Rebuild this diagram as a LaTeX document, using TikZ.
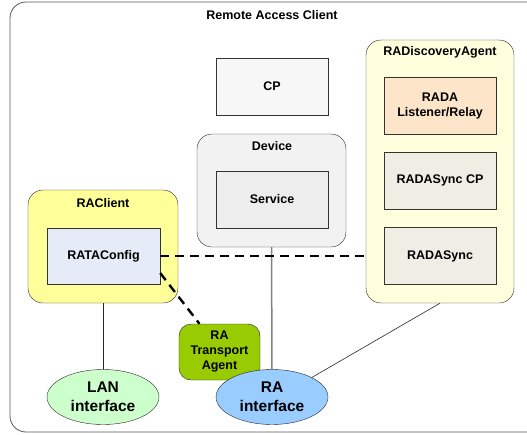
\documentclass[tikz,border=0pt]{standalone}
\usepackage{fontspec}
\setmainfont{Liberation Sans}
\usetikzlibrary{positioning, shapes}

\definecolor{raclientyellow}{HTML}{FFFF99}
\definecolor{radayellow}{HTML}{FFFFDD}
\definecolor{devicegray}{HTML}{F2F2F2}
\definecolor{cpgray}{HTML}{F7F7F7}
\definecolor{servicegray}{HTML}{EDEDED}
\definecolor{configblue}{HTML}{E6ECF7}
\definecolor{relayorange}{HTML}{FCE5C8}
\definecolor{syncgray}{HTML}{EEEEE4}
\definecolor{agentgreen}{HTML}{99CC00}
\definecolor{langreen}{HTML}{CCFFCC}
\definecolor{rablue}{HTML}{99CCFF}

\begin{document}
\begin{tikzpicture}[x=1pt, y=-1pt, font=\fontsize{12.5}{15}\selectfont\bfseries]
    \tikzstyle{inner} = [rectangle, draw=black!80, minimum width=112pt, minimum height=57pt, align=center]
    \tikzstyle{holder} = [rectangle, rounded corners=15pt, draw=black!85]
    \tikzstyle{iface} = [ellipse, draw=black!85, minimum width=112pt, minimum height=55pt, align=center, font=\fontsize{15.5}{19}\selectfont\bfseries]
    \tikzstyle{link} = [draw=black!85, line width=0.6pt]
    \tikzstyle{config} = [draw=black, line width=2.4pt, dash pattern=on 9pt off 6pt]
    \useasboundingbox (0,0) rectangle (527,434);
    \clip (0,0) rectangle (527,434);

    % outer frame
    \draw[black!65, rounded corners=16pt, line width=0.8pt] (10,2) rectangle (545,432);
    \node (title) at (272,15) {Remote Access Client};

    % containers
    \node[holder, fill=devicegray, minimum width=149pt, minimum height=113pt] (device) at (271.5,190.5) {};
    \node (devicelbl) at (272,146) {Device};
    \node[holder, fill=raclientyellow, minimum width=150pt, minimum height=113pt] (raclient) at (103,246.5) {};
    \node (raclientlbl) at (103,203) {RAClient};
    \node[holder, fill=radayellow, minimum width=148pt, minimum height=263pt] (rada) at (440,171.5) {};
    \node (radalbl) at (440,52) {RADiscoveryAgent};

    % boxes
    \node[inner, fill=cpgray] (cp) at (272,86.5) {CP};
    \node[inner, fill=servicegray] (service) at (272,199.5) {Service};
    \node[inner, fill=configblue, minimum width=113pt, minimum height=56pt] (rataconfig) at (103.5,256) {RATAConfig};
    \node[inner, fill=relayorange] (relay) at (440,105.5) {RADA\\Listener/Relay};
    \node[inner, fill=syncgray] (synccp) at (440,180.5) {RADASync CP};
    \node[inner, fill=syncgray] (sync) at (440,256) {RADASync};

    % links
    \draw[black!50, line width=1.5pt] (device.south) -- (272,370);
    \draw[link] (raclient.south) -- (103,370);
    \draw[link] (rada.south) -- (311.6,377.6);
    \draw[config] (rataconfig.east) -- (rataconfig.east -| rada.west);

    \node[rectangle, rounded corners=12pt, draw=black!85, fill=agentgreen, minimum width=81pt, minimum height=56pt, align=center] (agent) at (219.5,352) {RA\\Transport\\Agent};
    \draw[config] ([yshift=-17pt]rataconfig.east) -- ([xshift=-20pt]agent.north);

    \node[iface, fill=langreen] (lan) at (103,397) {LAN\\interface};
    \node[iface, fill=rablue] (raif) at (272,397) {RA\\interface};
\end{tikzpicture}
\end{document}
